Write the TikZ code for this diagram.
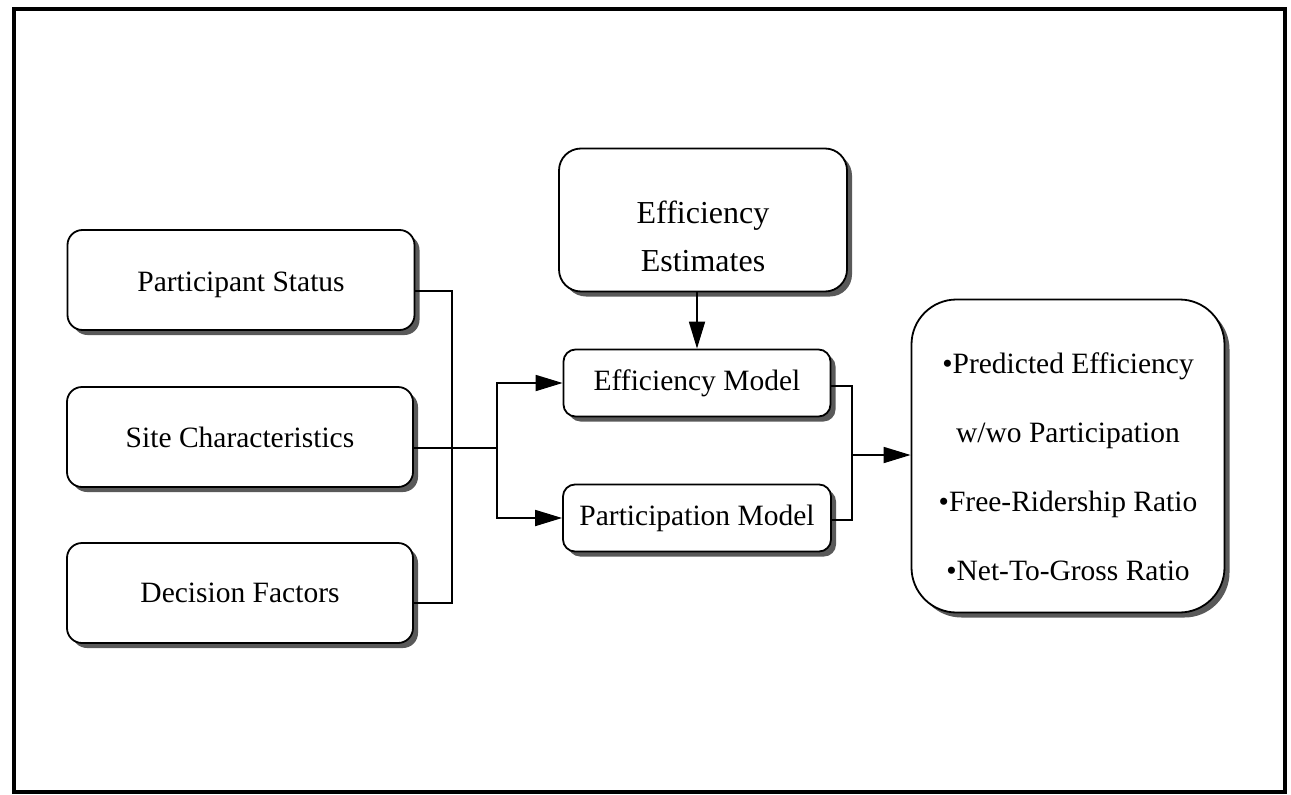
\documentclass[tikz,border=0pt]{standalone}
\usepackage{fontspec}
\setmainfont{Liberation Serif}
\usetikzlibrary{arrows.meta,shadows}

\begin{document}
\begin{tikzpicture}[x=1pt,y=-1pt,
    box/.style={draw,line width=1.8pt,fill=white,inner sep=0pt,
      drop shadow={shadow xshift=5pt,shadow yshift=-5pt,fill=black!65,opacity=1},
      font=\fontsize{29.5}{34}\selectfont,align=center},
    wire/.style={line width=1.8pt},
    arr/.style={wire,-{Triangle[length=27pt,width=16pt]}}]
    % Page frame
    \useasboundingbox (0,0) rectangle (1291,795);
    \draw[line width=3.5pt] (14,9) rectangle (1285,792);

    % Input boxes
    \node[box,rounded corners=15pt,minimum width=347pt,minimum height=100pt] (ps) at (241,280) {\rule{0pt}{30pt}Participant Status};
    \node[box,rounded corners=15pt,minimum width=346pt,minimum height=100pt] (sc) at (240,437) {Site Characteristics};
    \node[box,rounded corners=15pt,minimum width=346pt,minimum height=100pt] (df) at (240,593) {Decision Factors};

    % Estimates and models
    \node[box,rounded corners=22pt,minimum width=288pt,minimum height=143pt,
          font=\fontsize{32}{48}\selectfont] (est) at (703,220) {\rule{0pt}{56pt}Efficiency\\Estimates};
    \node[box,rounded corners=12pt,minimum width=267pt,minimum height=67pt] (em) at (697,383) {Efficiency Model};
    \node[box,rounded corners=12pt,minimum width=268pt,minimum height=67pt] (pm) at (697,518) {Participation Model};

    % Results
    \node[box,rounded corners=45pt,minimum width=313pt,minimum height=313pt,
          font=\fontsize{29.5}{69}\selectfont] (out) at (1068,456)
          {\rule{0pt}{42pt}•Predicted Efficiency\\w/wo Participation\\•Free-Ridership Ratio\\•Net-To-Gross Ratio};

    % Input bus
    \coordinate (busin) at (452,448);
    \coordinate (split) at (497,448);
    \coordinate (busout) at (852,455);
    \draw[wire] ([yshift=-11pt]ps.east) -| (busin) |- ([yshift=-10pt]df.east);
    \draw[wire] ([yshift=-11pt]sc.east) -- (split);
    \draw[arr] (split) |- (em.west);
    \draw[arr] (split) |- (pm.west);
    \draw[arr] (est.south -| em.north) -- (em.north);

    % Output bus
    \draw[wire] ([yshift=-3pt]em.east) -| (busout) |- ([yshift=-2pt]pm.east);
    \draw[arr] (busout) -- (out.west |- busout);
\end{tikzpicture}
\end{document}
